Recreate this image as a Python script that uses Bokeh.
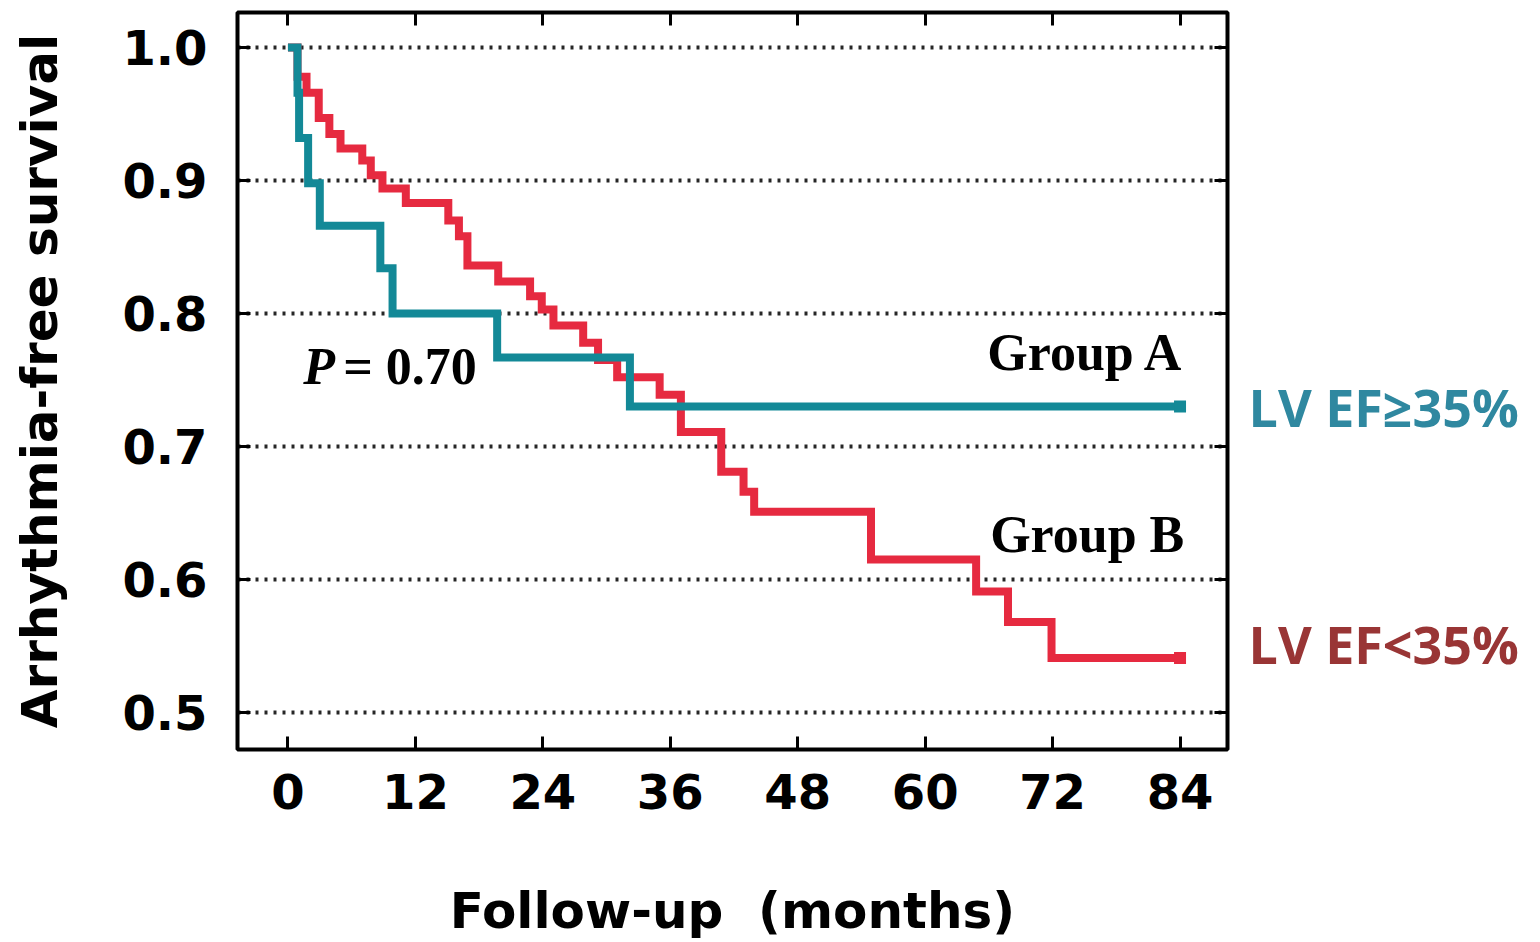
from bokeh.plotting import figure
from bokeh.layouts import row
from bokeh.models import Range1d, FixedTicker, LinearAxis, Label
from bokeh.embed import file_html
from bokeh.resources import INLINE

# Kaplan-Meier estimates (months, arrhythmia-free survival)
months_a = [0, 0.9, 1.05, 1.9, 3.0, 8.7, 9.85, 19.7, 32.2, 84.0]
surv_a = [1.0, 0.966, 0.932, 0.898, 0.866, 0.834, 0.800, 0.767, 0.730, 0.730]

months_b = [0, 0.9, 1.75, 2.9, 3.9, 4.95, 7.0, 7.8, 8.9, 11.1, 15.1, 16.1, 16.9,
            19.8, 22.8, 23.9, 25.0, 27.8, 29.2, 31.0, 35.0, 37.0, 40.8, 42.9,
            43.9, 54.9, 64.8, 67.8, 71.9, 84.0]
surv_b = [1.0, 0.978, 0.966, 0.947, 0.935, 0.924, 0.915, 0.904, 0.894, 0.883,
          0.870, 0.858, 0.836, 0.824, 0.813, 0.803, 0.791, 0.778, 0.765, 0.752,
          0.739, 0.711, 0.681, 0.666, 0.651, 0.615, 0.591, 0.568, 0.541, 0.541]

x_ticks = [0, 12, 24, 36, 48, 60, 72, 84]
y_ticks = [0.5, 0.6, 0.7, 0.8, 0.9, 1.0]
y_tick_labels = ["0.5", "0.6", "0.7", "0.8", "0.9", "1.0"]

p_value_text = "= 0.70"
group_labels = ["Group A", "Group B"]
ef_labels = ["LV EF\u226535%", "LV EF<35%"]

TEAL = "#138997"
RED = "#e62a40"

Y_RANGE = (0.4722, 1.0263)
TOP, BOTTOM = 12, 192

p = figure(width=1232, height=942,
           x_range=Range1d(-4.75, 88.47), y_range=Range1d(*Y_RANGE),
           output_backend="svg", toolbar_location=None,
           min_border_left=237, min_border_right=5,
           min_border_top=TOP, min_border_bottom=BOTTOM)

p.background_fill_color = "white"
p.border_fill_color = "white"
p.outline_line_color = "black"
p.outline_line_width = 4
p.outline_line_alpha = 1.0

xt = FixedTicker(ticks=x_ticks, minor_ticks=[])
yt = FixedTicker(ticks=y_ticks, minor_ticks=[])

# bottom / left axes carry the labels
p.xaxis.ticker = xt
p.yaxis.ticker = yt
p.yaxis.major_label_overrides = {v: s for v, s in zip(y_ticks, y_tick_labels)}
p.xaxis.axis_label = "Follow-up\u00a0\u00a0(months)"
p.yaxis.axis_label = "Arrhythmia-free survival"

for ax in (p.xaxis[0], p.yaxis[0]):
    ax.axis_line_color = None
    ax.major_tick_in = 13
    ax.major_tick_out = 0
    ax.major_tick_line_width = 3
    ax.major_tick_line_color = "black"
    ax.minor_tick_line_color = None
    ax.major_label_text_font = "DejaVu Sans"
    ax.major_label_text_font_style = "bold"
    ax.major_label_text_font_size = "48px"
    ax.major_label_text_color = "black"
    ax.axis_label_text_font = "DejaVu Sans"
    ax.axis_label_text_font_style = "bold"
    ax.axis_label_text_font_size = "50px"
    ax.axis_label_text_color = "black"

p.yaxis.major_label_standoff = 30
p.yaxis.axis_label_standoff = 50
p.xaxis.major_label_standoff = 24
p.xaxis.axis_label_standoff = 70

# tick-only axes on the top and right edges
top_ax = LinearAxis(ticker=xt, major_label_overrides={t: "" for t in x_ticks})
right_ax = LinearAxis(ticker=yt, major_label_overrides={t: "" for t in y_ticks})
for ax in (top_ax, right_ax):
    ax.axis_line_color = None
    ax.major_tick_in = 13
    ax.major_tick_out = 0
    ax.major_tick_line_width = 3
    ax.minor_tick_line_color = None
    ax.major_label_text_font_size = "1px"
    ax.major_label_standoff = 0
p.add_layout(top_ax, "above")
p.add_layout(right_ax, "right")

# dotted horizontal reference lines
p.xgrid.grid_line_color = None
p.ygrid.ticker = yt
p.ygrid.grid_line_color = "black"
p.ygrid.grid_line_width = 4
p.ygrid.grid_line_dash = "3 6"
p.ygrid.grid_line_alpha = 0.85

# survival curves
p.step(months_b, surv_b, mode="after", line_color=RED, line_width=8,
       line_join="miter")
p.step(months_a, surv_a, mode="after", line_color=TEAL, line_width=8,
       line_join="miter")
p.scatter([months_b[-1]], [surv_b[-1]], marker="square", size=12,
          fill_color=RED, line_color=None)
p.scatter([months_a[-1]], [surv_a[-1]], marker="square", size=12,
          fill_color=TEAL, line_color=None)

# annotations inside the plot
serif = "Liberation Serif"


def note(fig, x, y, text, font, style, size, color, align="left"):
    fig.add_layout(Label(x=x, y=y, text=text, text_font=font,
                         text_font_style=style, text_font_size=size,
                         text_align=align, text_baseline="alphabetic",
                         text_color=color))


note(p, 84.4, 0.771, group_labels[0], serif, "bold", "52px", "black", "right")
note(p, 84.4, 0.634, group_labels[1], serif, "bold", "52px", "black", "right")
note(p, 1.45, 0.760, "P", serif, "bold italic", "52px", "black")
note(p, 5.2, 0.760, p_value_text, serif, "bold", "52px", "black")

# side panel with the group descriptions, sharing the vertical scale
side = figure(width=308, height=942,
              x_range=Range1d(1232, 1540), y_range=Range1d(*Y_RANGE),
              output_backend="svg", toolbar_location=None,
              x_axis_type=None, y_axis_type=None,
              min_border_left=0, min_border_right=0,
              min_border_top=TOP, min_border_bottom=BOTTOM)
side.outline_line_color = None
side.background_fill_color = "white"
side.border_fill_color = "white"
side.xgrid.grid_line_color = None
side.ygrid.grid_line_color = None

note(side, 1248, 0.730, ef_labels[0], "Open Sans", "bold", "52px", "#2f88a0")
note(side, 1248, 0.552, ef_labels[1], "Open Sans", "bold", "52px", "#993535")

layout = row(p, side, spacing=0)
open("out.html", "w").write(file_html(layout, INLINE))
